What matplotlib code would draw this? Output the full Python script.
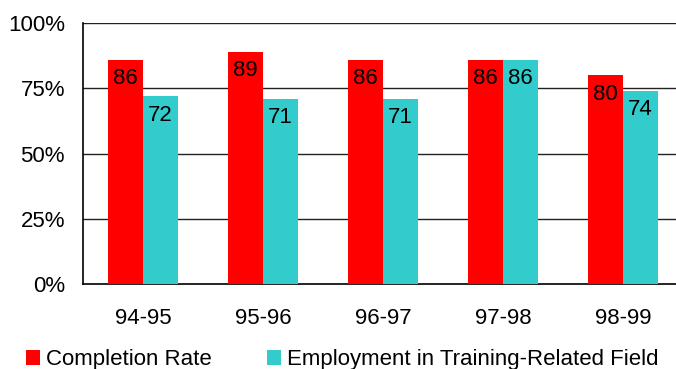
import matplotlib
matplotlib.use("Agg")
import matplotlib.pyplot as plt
import numpy as np
from matplotlib.patches import Patch

years = ["94-95", "95-96", "96-97", "97-98", "98-99"]
completion = [86, 89, 86, 86, 80]
employment = [72, 71, 71, 86, 74]
series_names = ["Completion Rate", "Employment in Training-Related Field"]
y_ticks = [0, 25, 50, 75, 100]

red = "#FF0000"
teal = "#33CCCC"

plt.rcParams["font.family"] = ["Liberation Sans", "DejaVu Sans"]

fig = plt.figure(figsize=(6.76, 3.69), dpi=100)
ax = fig.add_axes([83 / 676, 85 / 369, 600 / 676, 261 / 369])

x = np.arange(len(years))
w = 0.29
ax.bar(x - w / 2, completion, width=w, color=red, zorder=3)
ax.bar(x + w / 2, employment, width=w, color=teal, zorder=3)

for xs, vals in ((x - w / 2, completion), (x + w / 2, employment)):
    for xi, v in zip(xs, vals):
        ax.text(xi, v - 7.3, f"{v}", ha="center", va="center",
                fontsize=16, color="black", zorder=4)

ax.set_xlim(-0.5, len(years) - 0.5)
ax.set_ylim(0, 100)
ax.set_yticks(y_ticks)
ax.set_yticklabels([f"{t}%" for t in y_ticks])
ax.set_xticks(x)
ax.set_xticklabels(years)
ax.tick_params(axis="both", length=0, labelsize=16)
ax.tick_params(axis="y", pad=13)
ax.tick_params(axis="x", pad=17)

for t in y_ticks[1:]:
    ax.axhline(t, color="#222222", lw=1, zorder=1)

for s in ("top", "right"):
    ax.spines[s].set_visible(False)
ax.spines["left"].set_color("black")
ax.spines["bottom"].set_color("black")
ax.spines["left"].set_linewidth(1.2)
ax.spines["bottom"].set_linewidth(1.2)

handles = [Patch(facecolor=red), Patch(facecolor=teal)]
fig.legend(handles, series_names, loc="center left",
           bbox_to_anchor=(26 / 676, 1 - 360 / 369), ncol=2, frameon=False,
           fontsize=16, handlelength=0.63, handleheight=0.63,
           handletextpad=0.27, columnspacing=2.5, borderpad=0,
           borderaxespad=0)

fig.savefig("out.png", dpi=100)
